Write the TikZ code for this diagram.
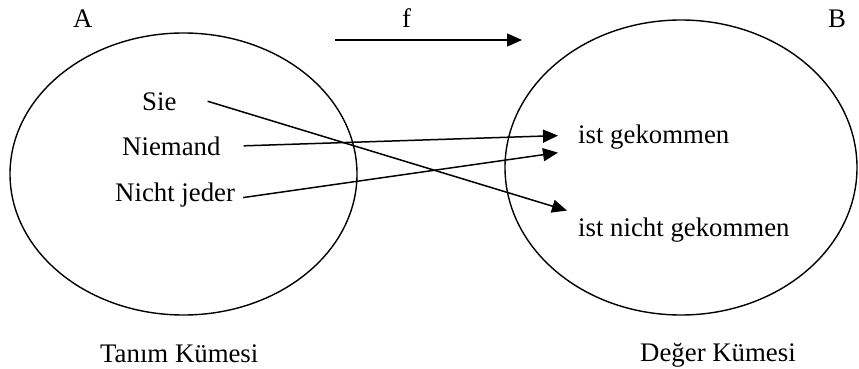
\documentclass[tikz,border=0pt]{standalone}
\usepackage{fontspec}
\setmainfont{Liberation Serif}
\usetikzlibrary{arrows.meta}
\begin{document}
\begin{tikzpicture}[x=1pt,y=-1pt,
  lbl/.style={inner sep=0pt,anchor=base west,font=\fontsize{26.8}{30}\selectfont},
  setline/.style={line width=1.4pt},
  conn/.style={line width=1.5pt,-{Triangle[length=15pt,width=13pt]}}]
\useasboundingbox (0,0) rectangle (859,369);
\draw[setline] (183.5,174) ellipse [x radius=173.5, y radius=141];
\draw[setline] (681,167.5) ellipse [x radius=176, y radius=147.5];
\node[lbl] (A) at (73,28) {A};
\node[lbl] (f) at (402,28) {f};
\node[lbl] (B) at (828,28) {B};
\coordinate (fs) at (335,40);
\coordinate (fe) at (522,40);
\draw[conn] (fs) -- (fe);
\node[lbl] (sie) at (142,110) {Sie};
\node[lbl] (nie) at (122,155) {Niemand};
\node[lbl] (nj) at (115,201) {Nicht jeder};
\node[lbl] (gek) at (578,143) {ist gekommen};
\node[lbl] (ngek) at (578,236) {ist nicht gekommen};
\node[lbl] (tan) at (100,362) {Tanım Kümesi};
\node[lbl] (deg) at (640,361) {Değer Kümesi};
\draw[conn] ([xshift=31pt,yshift=0pt]sie.east) -- ([xshift=-11pt,yshift=19pt]ngek.west);
\draw[conn] ([xshift=23pt]nie.east) -- ([xshift=-20pt,yshift=1pt]gek.west);
\draw[conn] ([xshift=8pt,yshift=-3pt]nj.east) -- ([xshift=-20pt,yshift=-16pt]gek.west);
\end{tikzpicture}
\end{document}
